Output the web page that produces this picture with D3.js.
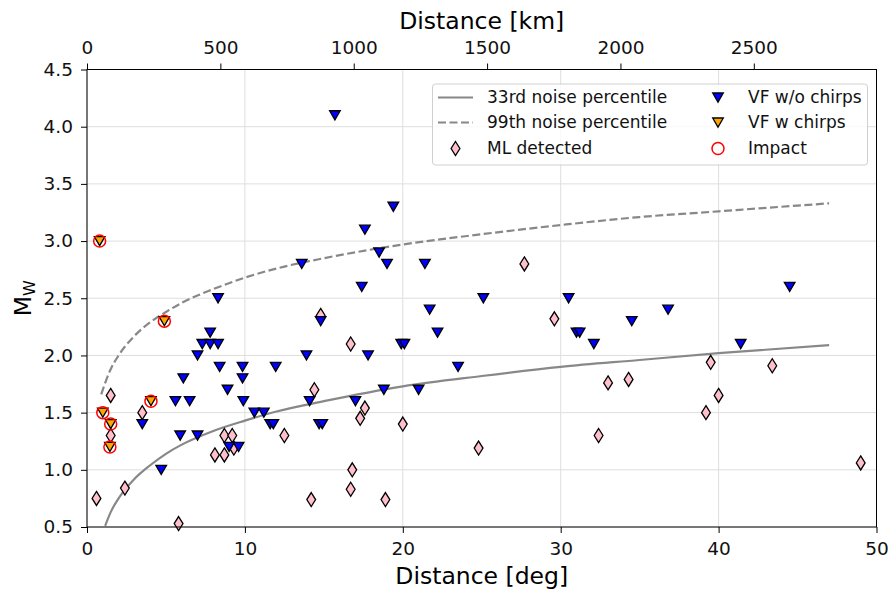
<!DOCTYPE html>
<html lang="en">
<head>
<meta charset="utf-8">
<title>Mw vs distance</title>
<script src="https://cdn.jsdelivr.net/npm/d3@7"></script>
<style>
  body { margin: 0; background: #fff; }
  text { font-family: "DejaVu Sans", sans-serif; }
</style>
</head>
<body>
<script>
// noise percentile curves [deg, Mw]
var p33 = [[1.15,0.51],[1.5,0.63],[2,0.75],[3,0.92],[4,1.04],[5,1.14],[6,1.22],[8,1.34],[10,1.43],[12,1.51],[15,1.60],[20,1.73],[25,1.82],[30,1.90],[35,1.96],[40,2.02],[47,2.09]];
var p99 = [[0.9,1.66],[1.5,1.88],[2,2.00],[3,2.17],[4,2.29],[5,2.38],[6,2.46],[8,2.58],[10,2.68],[12,2.76],[15,2.85],[20,2.97],[25,3.06],[30,3.14],[35,3.21],[40,3.26],[47,3.33]];

var mlDetected = [[0.6,0.75],[1.5,1.65],[1.5,1.30],[2.4,0.84],[3.5,1.50],[5.8,0.53],[8.7,1.30],[9.2,1.30],[8.1,1.13],[8.7,1.13],[9.3,1.19],[12.5,1.30],[14.4,1.70],[14.8,2.35],[16.7,2.10],[17.6,1.54],[17.3,1.45],[20.0,1.40],[16.8,1.00],[16.7,0.83],[14.2,0.74],[18.9,0.74],[24.8,1.19],[27.7,2.80],[29.6,2.32],[33.0,1.76],[34.3,1.79],[32.4,1.30],[39.5,1.94],[43.4,1.91],[40.0,1.65],[39.2,1.50],[49.0,1.06]];

var vfNoChirps = [[15.7,4.1],[19.4,3.3],[17.6,3.1],[18.5,2.9],[13.6,2.8],[19.0,2.8],[21.4,2.8],[17.4,2.6],[8.3,2.5],[25.1,2.5],[30.5,2.5],[21.7,2.4],[36.8,2.4],[44.5,2.6],[14.8,2.3],[34.5,2.3],[7.8,2.2],[22.2,2.2],[31.0,2.2],[31.2,2.2],[7.3,2.1],[7.8,2.1],[8.3,2.1],[19.9,2.1],[20.1,2.1],[32.1,2.1],[41.4,2.1],[7.0,2.0],[13.9,2.0],[17.8,2.0],[8.4,1.9],[9.85,1.9],[11.95,1.9],[23.5,1.9],[6.1,1.8],[9.85,1.8],[8.9,1.7],[18.8,1.7],[21.0,1.7],[5.6,1.6],[6.5,1.6],[9.9,1.6],[14.1,1.6],[17.0,1.6],[10.6,1.5],[11.2,1.5],[3.5,1.4],[11.6,1.4],[11.8,1.4],[14.7,1.4],[14.9,1.4],[5.9,1.3],[7.0,1.3],[9.0,1.2],[9.6,1.2],[4.7,1.0]];

var vfChirps = [[0.8,3.0],[4.9,2.3],[1.0,1.5],[1.5,1.4],[1.45,1.2],[4.05,1.6]];
var impact = [[0.8,3.0],[4.9,2.3],[1.0,1.5],[1.5,1.4],[1.45,1.2],[4.05,1.6]];

var degTicks = [0, 10, 20, 30, 40, 50];
var kmTicks = [0, 500, 1000, 1500, 2000, 2500];
var mwTicks = [0.5, 1.0, 1.5, 2.0, 2.5, 3.0, 3.5, 4.0, 4.5];

var w = 893, h = 590;
var mLeft = 87, mRight = 876.5, mTop = 69.5, mBottom = 527;

var svg = d3.select("body").append("svg")
  .attr("width", w)
  .attr("height", h);

var x = d3.scaleLinear().domain([0, 50]).range([mLeft, mRight]);
var xKm = d3.scaleLinear().domain([0, 2960]).range([mLeft, mRight]);
var y = d3.scaleLinear().domain([0.5, 4.5]).range([mBottom, mTop]);

// grid
svg.append("g").selectAll("line")
  .data(degTicks)
  .enter().append("line")
  .attr("x1", function(d) { return x(d); })
  .attr("x2", function(d) { return x(d); })
  .attr("y1", mTop).attr("y2", mBottom)
  .attr("stroke", "#dedede").attr("stroke-width", 1);

svg.append("g").selectAll("line")
  .data(mwTicks)
  .enter().append("line")
  .attr("x1", mLeft).attr("x2", mRight)
  .attr("y1", function(d) { return y(d); })
  .attr("y2", function(d) { return y(d); })
  .attr("stroke", "#dedede").attr("stroke-width", 1);

var plot = svg.append("g");
plot.append("clipPath").attr("id", "clip")
  .append("rect").attr("x", mLeft).attr("y", mTop)
  .attr("width", mRight - mLeft).attr("height", mBottom - mTop);

var line = d3.line()
  .x(function(d) { return x(d[0]); })
  .y(function(d) { return y(d[1]); })
  .curve(d3.curveMonotoneX);

plot.append("path").datum(p33)
  .attr("d", line).attr("clip-path", "url(#clip)")
  .attr("fill", "none").attr("stroke", "#888").attr("stroke-width", 2.2);

plot.append("path").datum(p99)
  .attr("d", line).attr("clip-path", "url(#clip)")
  .attr("fill", "none").attr("stroke", "#888").attr("stroke-width", 2.2)
  .attr("stroke-dasharray", "8,3.5");

var triPath = "M-5.3,-4.5L5.3,-4.5L0,4.6Z";
var diaPath = "M0,-7L4.4,0L0,7L-4.4,0Z";

plot.selectAll(".ml")
  .data(mlDetected)
  .enter().append("path")
  .attr("class", "ml")
  .attr("d", diaPath)
  .attr("transform", function(d) { return "translate(" + x(d[0]) + "," + y(d[1]) + ")"; })
  .attr("fill", "pink").attr("stroke", "black").attr("stroke-width", 1.3);

plot.selectAll(".vf")
  .data(vfNoChirps)
  .enter().append("path")
  .attr("class", "vf")
  .attr("d", triPath)
  .attr("transform", function(d) { return "translate(" + x(d[0]) + "," + y(d[1]) + ")"; })
  .attr("fill", "#0000ff").attr("stroke", "black").attr("stroke-width", 1.3);

plot.selectAll(".vfc")
  .data(vfChirps)
  .enter().append("path")
  .attr("class", "vfc")
  .attr("d", triPath)
  .attr("transform", function(d) { return "translate(" + x(d[0]) + "," + y(d[1]) + ")"; })
  .attr("fill", "orange").attr("stroke", "black").attr("stroke-width", 1.3);

plot.selectAll(".imp")
  .data(impact)
  .enter().append("circle")
  .attr("class", "imp")
  .attr("cx", function(d) { return x(d[0]); })
  .attr("cy", function(d) { return y(d[1]); })
  .attr("r", 6)
  .attr("fill", "none").attr("stroke", "red").attr("stroke-width", 1.5);

// frame
svg.append("rect")
  .attr("x", mLeft).attr("y", mTop)
  .attr("width", mRight - mLeft).attr("height", mBottom - mTop)
  .attr("fill", "none").attr("stroke", "black").attr("stroke-width", 1);

// axes
var xAxis = svg.append("g")
  .attr("transform", "translate(0," + mBottom + ")")
  .call(d3.axisBottom(x).tickValues(degTicks).tickFormat(d3.format("d")).tickSize(6).tickPadding(9));

var topAxis = svg.append("g")
  .attr("transform", "translate(0," + mTop + ")")
  .call(d3.axisTop(xKm).tickValues(kmTicks).tickFormat(d3.format("d")).tickSize(6).tickPadding(10));

var yAxis = svg.append("g")
  .attr("transform", "translate(" + mLeft + ",0)")
  .call(d3.axisLeft(y).tickValues(mwTicks).tickFormat(d3.format(".1f")).tickSize(6).tickPadding(8));

[xAxis, topAxis, yAxis].forEach(function(a) {
  a.select(".domain").remove();
  a.selectAll("text").attr("font-size", "18.5px").attr("fill", "#111").attr("font-family", "DejaVu Sans");
  a.selectAll("line").attr("stroke", "black").attr("stroke-width", 1);
});

svg.append("text")
  .attr("x", (mLeft + mRight) / 2).attr("y", 584)
  .attr("text-anchor", "middle").attr("font-size", "23.5px")
  .text("Distance [deg]");

svg.append("text")
  .attr("x", (mLeft + mRight) / 2).attr("y", 29)
  .attr("text-anchor", "middle").attr("font-size", "23.5px")
  .text("Distance [km]");

var ylab = svg.append("text")
  .attr("transform", "translate(31," + ((mTop + mBottom) / 2) + ") rotate(-90)")
  .attr("text-anchor", "middle").attr("font-size", "23.5px");
ylab.append("tspan").text("M");
ylab.append("tspan").attr("font-size", "16px").attr("dy", 4).text("W");

// legend
var lg = svg.append("g");
lg.append("rect")
  .attr("x", 432.5).attr("y", 84).attr("width", 435).attr("height", 81).attr("rx", 3)
  .attr("fill", "white").attr("fill-opacity", 0.8)
  .attr("stroke", "#d0d0d0").attr("stroke-width", 1);

var rows = [97.5, 122.5, 148.5];
var lfs = "17px";

lg.append("line").attr("x1", 438).attr("x2", 473).attr("y1", rows[0]).attr("y2", rows[0])
  .attr("stroke", "#888").attr("stroke-width", 2.2);
lg.append("line").attr("x1", 438).attr("x2", 473).attr("y1", rows[1]).attr("y2", rows[1])
  .attr("stroke", "#888").attr("stroke-width", 2.2).attr("stroke-dasharray", "8,3.5");
lg.append("path").attr("d", diaPath).attr("transform", "translate(455.5," + rows[2] + ")")
  .attr("fill", "pink").attr("stroke", "black").attr("stroke-width", 1.3);
lg.append("path").attr("d", triPath).attr("transform", "translate(718," + rows[0] + ")")
  .attr("fill", "#0000ff").attr("stroke", "black").attr("stroke-width", 1.3);
lg.append("path").attr("d", triPath).attr("transform", "translate(718," + rows[1] + ")")
  .attr("fill", "orange").attr("stroke", "black").attr("stroke-width", 1.3);
lg.append("circle").attr("cx", 718).attr("cy", rows[2]).attr("r", 6)
  .attr("fill", "none").attr("stroke", "red").attr("stroke-width", 1.5);

var labels1 = ["33rd noise percentile", "99th noise percentile", "ML detected"];
var labels2 = ["VF w/o chirps", "VF w chirps", "Impact"];
labels1.forEach(function(t, i) {
  lg.append("text").attr("x", 487).attr("y", rows[i]).attr("dy", "0.35em")
    .attr("font-size", lfs).attr("fill", "#111").text(t);
});
labels2.forEach(function(t, i) {
  lg.append("text").attr("x", 748).attr("y", rows[i]).attr("dy", "0.35em")
    .attr("font-size", lfs).attr("fill", "#111").text(t);
});
</script>
</body>
</html>
